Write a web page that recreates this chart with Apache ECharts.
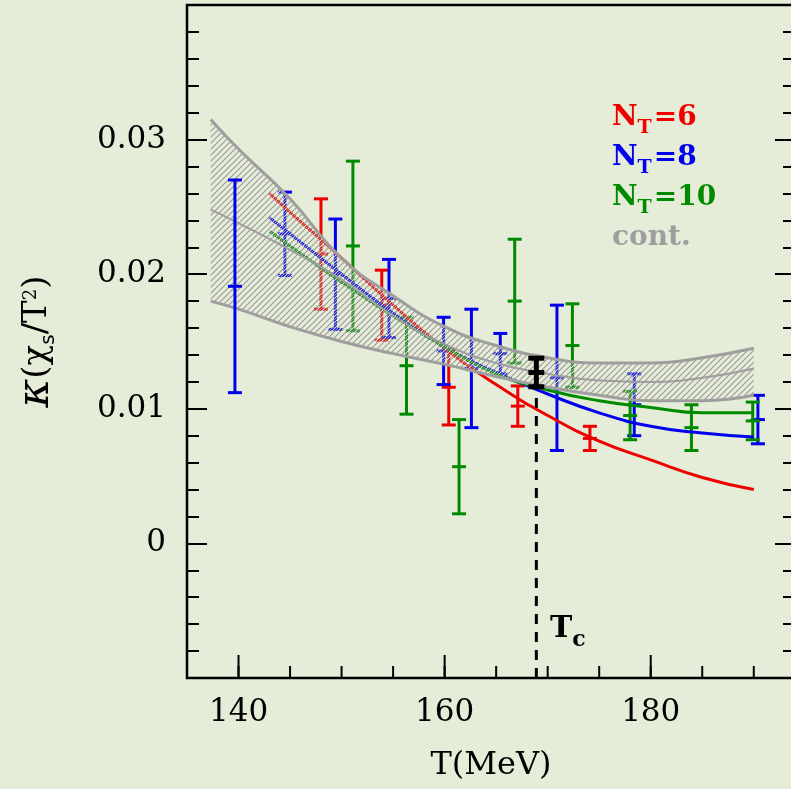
<!DOCTYPE html>
<html>
<head>
<meta charset="utf-8">
<script src="https://cdn.jsdelivr.net/npm/echarts@6/dist/echarts.min.js"></script>
<style>
  html, body { margin: 0; padding: 0; background: #e5ecd8; }
  #chart { width: 791px; height: 789px; }
</style>
</head>
<body>
<div id="chart"></div>
<script>
// --- data ---
// error bars: temperature, value, half error
var t6 = [148.0, 153.9, 160.4, 167.1, 174.1];
var y6 = [0.0215, 0.0177, 0.0116, 0.0102, 0.0078];
var e6 = [0.0041, 0.0026, 0.0028, 0.0015, 0.0009];

var t8 = [139.65, 144.5, 149.4, 154.6, 159.9, 162.6, 165.4, 170.9, 178.4, 190.4];
var y8 = [0.0191, 0.0230, 0.0200, 0.0182, 0.0143, 0.0130, 0.0141, 0.0123, 0.0103, 0.0092];
var e8 = [0.0079, 0.0031, 0.0041, 0.0029, 0.0025, 0.0044, 0.0015, 0.0054, 0.0023, 0.0018];

var t10 = [151.1, 156.3, 161.4, 166.8, 172.4, 178.0, 183.95, 189.9];
var y10 = [0.0221, 0.0132, 0.0057, 0.0180, 0.0147, 0.0095, 0.0086, 0.0091];
var e10 = [0.0063, 0.0036, 0.0035, 0.0046, 0.0031, 0.0018, 0.0017, 0.0014];

var tTc = [168.9];
var yTc = [0.0127];
var eTc = [0.00106];

// fit curves
var tFit = [143, 145, 150, 155, 160, 165, 170, 175, 180, 185, 190];
var fit6 = [0.0260, 0.0246, 0.0212, 0.0177, 0.0145, 0.0118, 0.0095, 0.0076, 0.0062, 0.0049, 0.0040];
var fit8 = [0.0242, 0.0230, 0.0200, 0.0171, 0.0146, 0.0127, 0.0111, 0.0097, 0.0087, 0.0082, 0.0079];
var fit10 = [0.0232, 0.0221, 0.0194, 0.0169, 0.0146, 0.0126, 0.0114, 0.0106, 0.0101, 0.0097, 0.0097];

// continuum band
var tBand = [137.3, 140, 145, 150, 155, 160, 165, 170, 175, 180, 185, 190];
var bandHi = [0.0315, 0.0293, 0.0256, 0.0212, 0.0184, 0.0161, 0.0147, 0.0138, 0.0134, 0.0134, 0.0138, 0.0145];
var bandMid = [0.0248, 0.0238, 0.0218, 0.0196, 0.0169, 0.0148, 0.0134, 0.0126, 0.0121, 0.0120, 0.0123, 0.0130];
var bandLo = [0.0180, 0.0174, 0.0161, 0.0150, 0.0141, 0.0133, 0.0124, 0.0116, 0.0110, 0.0106, 0.0106, 0.0110];

var xMinor = [140, 145, 150, 155, 160, 165, 170, 175, 180, 185, 190];
var xMajor = [140, 160, 180];
var yMinor = [-0.008, -0.006, -0.004, -0.002, 0, 0.002, 0.004, 0.006, 0.008, 0.01, 0.012, 0.014, 0.016, 0.018,
  0.02, 0.022, 0.024, 0.026, 0.028, 0.03, 0.032, 0.034, 0.036, 0.038];
var yMajor = [0, 0.01, 0.02, 0.03];

var bg = '#e5ecd8';
var RED = '#ee0000', BLUE = '#0000ee', GREEN = '#008a00', GREY = '#9e9e9e';
var serif = 'DejaVu Serif';
var Y_MIN = -0.01, Y_MAX = 0.04;

function hatchPattern() {
  var s = 6;
  var c = document.createElement('canvas');
  c.width = s; c.height = s;
  var g = c.getContext('2d');
  function stripes(col, w, off) {
    g.strokeStyle = col; g.lineWidth = w;
    for (var k = -1; k <= 1; k++) {
      g.beginPath();
      g.moveTo(k * s + off - 1, s + 1);
      g.lineTo(k * s + off + s + 1, -1);
      g.stroke();
    }
  }
  stripes(bg, 1.1, 3);
  stripes('#999999', 1.1, 0);
  return c;
}

function pairs(xs, ys) {
  return xs.map(function (x, i) { return [x, ys[i]]; });
}

// value first so that the stack is done on y (x is a value axis here)
function flipped(xs, ys) {
  return xs.map(function (x, i) { return [ys[i], x]; });
}

function errData(ts, ys, es) {
  return ts.map(function (t, i) { return [t, ys[i], es[i]]; });
}

function errRender(color, lw, cap) {
  return function (params, api) {
    var x = api.value(0), y = api.value(1), e = api.value(2);
    var hi = api.coord([x, y + e]), mid = api.coord([x, y]), lo = api.coord([x, y - e]);
    var st = { stroke: color, lineWidth: lw };
    function h(p) {
      return { type: 'line', shape: { x1: p[0] - cap, y1: p[1], x2: p[0] + cap, y2: p[1] }, style: st };
    }
    return {
      type: 'group',
      children: [
        { type: 'line', shape: { x1: hi[0], y1: hi[1], x2: lo[0], y2: lo[1] }, style: st },
        h(hi), h(mid), h(lo)
      ]
    };
  };
}

function errSeries(ts, ys, es, color, lw, cap, z) {
  return {
    type: 'custom',
    renderItem: errRender(color, lw, cap),
    data: errData(ts, ys, es),
    encode: { x: 0, y: 1 },
    z: z,
    silent: true
  };
}

// bottom-axis ticks, pointing up into the plot
function xTickSeries(values, len) {
  return {
    type: 'custom',
    data: values.map(function (v) { return [v, Y_MIN]; }),
    encode: { x: 0, y: 1 },
    renderItem: function (params, api) {
      var p = api.coord([api.value(0), Y_MIN]);
      return {
        type: 'line',
        shape: { x1: p[0], y1: p[1], x2: p[0], y2: p[1] - len },
        style: { stroke: '#000', lineWidth: 2 }
      };
    },
    z: 7,
    silent: true
  };
}

function fitSeries(ys, color) {
  return {
    type: 'line', data: pairs(tFit, ys), smooth: true, symbol: 'none',
    lineStyle: { color: color, width: 3 }, z: 2, silent: true
  };
}

function legendText(label, sub, rest, color, top) {
  return {
    type: 'text', left: 612, top: top, z: 10,
    style: {
      text: sub ? '{n|' + label + '}{s|' + sub + '}{n|' + rest + '}' : '{n|' + label + '}',
      rich: {
        n: { fontFamily: serif, fontWeight: 'bold', fontSize: 28, fill: color, lineHeight: 40, verticalAlign: 'middle' },
        s: { fontFamily: serif, fontWeight: 'bold', fontSize: 19, fill: color, lineHeight: 40, verticalAlign: 'bottom', padding: [0, 2, 0, 0] }
      }
    }
  };
}

function yTickAxis(pos, len, values) {
  return {
    type: 'value', position: pos, min: Y_MIN, max: Y_MAX,
    axisLine: { show: false, onZero: false },
    splitLine: { show: false }, axisLabel: { show: false },
    axisTick: { show: true, inside: true, length: len, customValues: values, lineStyle: { color: '#000', width: 2 } }
  };
}

var labelFont = { show: true, fontFamily: serif, fontSize: 31, color: '#000' };

var xMain = {
  type: 'value', position: 'bottom', min: 135, max: 194,
  axisLine: { show: false, onZero: false }, splitLine: { show: false }, axisTick: { show: false },
  axisLabel: Object.assign({ customValues: xMajor, margin: 19 }, labelFont),
  name: 'T(MeV)', nameLocation: 'middle', nameGap: 72,
  nameTextStyle: { fontFamily: serif, fontSize: 32, color: '#000' }
};

var yMain = yTickAxis('left', 12, yMinor);
yMain.axisLabel = Object.assign({
  customValues: yMajor, margin: 21,
  formatter: function (v) { return v === 0 ? '0' : v.toFixed(2); }
}, labelFont);
yMain.name = '{k|κ}{p|(χ}{b|s}{p|/T}{u|2}{p|)}';
yMain.nameLocation = 'middle';
yMain.nameGap = 128;
yMain.nameRotate = 90;
yMain.nameTextStyle = {
  rich: {
    k: { fontFamily: serif, fontStyle: 'italic', fontSize: 44, color: '#000', verticalAlign: 'middle' },
    p: { fontFamily: serif, fontSize: 34, color: '#000', verticalAlign: 'middle' },
    b: { fontFamily: 'DejaVu Sans', fontSize: 20, color: '#000', verticalAlign: 'bottom' },
    u: { fontFamily: serif, fontSize: 18, color: '#000', verticalAlign: 'top', padding: [7, 0, 0, 0] }
  }
};

var chart = echarts.init(document.getElementById('chart'));
var option = {
  animation: false,
  backgroundColor: bg,
  grid: {
    left: 187, top: 5, width: 608, height: 673, outerBoundsMode: 'none',
    show: true, borderColor: '#000', borderWidth: 2.5, backgroundColor: 'transparent'
  },
  xAxis: [xMain],
  yAxis: [
    yMain,
    yTickAxis('left', 20, yMajor),
    yTickAxis('right', 12, yMinor),
    yTickAxis('right', 20, yMajor)
  ],
  graphic: [
    legendText('N', 'T', '=6', RED, 104),
    legendText('N', 'T', '=8', BLUE, 144),
    legendText('N', 'T', '=10', GREEN, 184),
    legendText('cont.', '', '', GREY, 224),
    {
      type: 'text', left: 550, top: 614, z: 10,
      style: {
        text: '{t|T}{c|c}',
        rich: {
          t: { fontFamily: serif, fontWeight: 'bold', fontSize: 30, fill: '#000', lineHeight: 44, verticalAlign: 'middle' },
          c: { fontFamily: serif, fontWeight: 'bold', fontSize: 22, fill: '#000', lineHeight: 44, verticalAlign: 'bottom' }
        }
      }
    }
  ],
  series: [
    errSeries(t6, y6, e6, RED, 3, 7, 2),
    errSeries(t8.slice(1), y8.slice(1), e8.slice(1), BLUE, 3, 7, 2),
    errSeries(t10, y10, e10, GREEN, 3, 7, 2),
    fitSeries(fit6, RED),
    fitSeries(fit8, BLUE),
    fitSeries(fit10, GREEN),
    {
      type: 'line', data: [[tTc[0], Y_MIN], [tTc[0], yTc[0] - eTc[0]]], symbol: 'none',
      lineStyle: { color: '#000', width: 3, type: [10, 8] }, z: 3, silent: true
    },
    {
      name: 'bandLo', type: 'line', stack: 'band', data: flipped(tBand, bandLo), encode: { x: 1, y: 0 },
      smooth: true, symbol: 'none',
      lineStyle: { color: GREY, width: 3 }, z: 5, silent: true
    },
    {
      name: 'bandHi', type: 'line', stack: 'band',
      data: tBand.map(function (t, i) { return [bandHi[i] - bandLo[i], t]; }), encode: { x: 1, y: 0 },
      smooth: true, symbol: 'none',
      lineStyle: { color: GREY, width: 3 },
      areaStyle: { color: { image: hatchPattern(), repeat: 'repeat' }, opacity: 1 },
      z: 4, silent: true
    },
    {
      type: 'line', data: pairs(tBand, bandMid), smooth: true, symbol: 'none',
      lineStyle: { color: GREY, width: 2 }, z: 5, silent: true
    },
    // the lowest-T blue point sits on top of the band
    errSeries(t8.slice(0, 1), y8.slice(0, 1), e8.slice(0, 1), BLUE, 3, 7, 6),
    errSeries(tTc, yTc, eTc, '#000', 5, 8, 6),
    xTickSeries(xMinor, 12),
    xTickSeries(xMajor, 23)
  ]
};
chart.setOption(option);
</script>
</body>
</html>
